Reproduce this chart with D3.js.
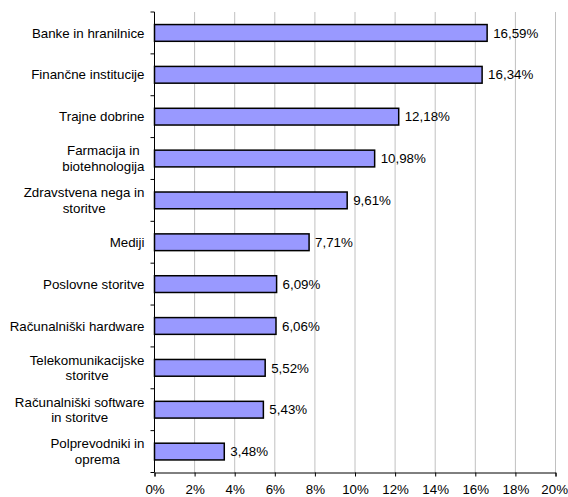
<!DOCTYPE html>
<html><head><meta charset="utf-8">
<script src="https://cdn.jsdelivr.net/npm/d3@7"></script>
<style>body{margin:0;background:#fff}svg{display:block}text{font-family:"Liberation Sans",Arial,sans-serif;font-size:13.33px;fill:#000}</style>
</head><body>
<svg id="c" width="568" height="497"></svg>
<script>
const categories = [
  ["Banke in hranilnice"],
  ["Finančne institucije"],
  ["Trajne dobrine"],
  ["Farmacija in","biotehnologija"],
  ["Zdravstvena nega in","storitve"],
  ["Mediji"],
  ["Poslovne storitve"],
  ["Računalniški hardware"],
  ["Telekomunikacijske","storitve"],
  ["Računalniški software","in storitve"],
  ["Polprevodniki in","oprema"]
];
const values = [16.59,16.34,12.18,10.98,9.61,7.71,6.09,6.06,5.52,5.43,3.48];
const xTicks = [0,2,4,6,8,10,12,14,16,18,20];

(function(){
const svg = d3.select("#c");
const mLeft = 154.5, mRight = 555.5, mTop = 12, mBottom = 472.5;
const x = d3.scaleLinear().domain([0,20]).range([mLeft,mRight]);
const ids = categories.map((d,i)=>i);
const y = d3.scaleBand().domain(ids).range([mTop,mBottom]).paddingInner(0.6).paddingOuter(0.3);
const yb = d3.scaleBand().domain(ids).range([mTop,mBottom]);

svg.append("g").selectAll("line").data(xTicks.slice(1)).join("line")
  .attr("x1",d=>x(d)).attr("x2",d=>x(d)).attr("y1",mTop).attr("y2",mBottom)
  .attr("stroke","#c0c0c0").attr("stroke-width",1);

svg.append("g").selectAll("rect").data(values).join("rect")
  .attr("x",x(0)).attr("y",(d,i)=>y(i)).attr("width",d=>x(d)-x(0)).attr("height",y.bandwidth())
  .attr("fill","#9999ff").attr("stroke","#000").attr("stroke-width",1.5);

svg.append("g").selectAll("text").data(values).join("text")
  .attr("x",d=>x(d)+6).attr("y",(d,i)=>y(i)+y.bandwidth()/2).attr("dy","0.35em")
  .text(d=>d.toFixed(2).replace(".",",")+"%");

const xa = svg.append("g").attr("transform",`translate(0,${mBottom})`)
  .call(d3.axisBottom(x).tickValues(xTicks).tickSize(4).tickPadding(8).tickFormat(d=>d+"%"));
xa.attr("font-size",null).attr("font-family",null);
xa.select(".domain").attr("stroke","#000");
xa.selectAll(".tick line").attr("stroke","#000");
xa.selectAll(".tick").filter(d=>d===20).select("text").attr("text-anchor","end").attr("x",12);

svg.append("line").attr("x1",mLeft).attr("x2",mLeft).attr("y1",mTop).attr("y2",mBottom).attr("stroke","#000");
const bounds = ids.map(i=>yb(i)).concat([mBottom]);
svg.append("g").selectAll("line").data(bounds).join("line")
  .attr("x1",mLeft-4).attr("x2",mLeft).attr("y1",d=>d).attr("y2",d=>d).attr("stroke","#000");

const labRight = 144.5, lh = 15.5;
categories.forEach((lines,i)=>{
  const cy = yb(i)+yb.bandwidth()/2;
  const g = svg.append("g");
  const ts = lines.map((l,j)=>g.append("text").attr("text-anchor","middle")
     .attr("y",cy + (j-(lines.length-1)/2)*lh).attr("dy","0.35em").text(l));
  const w = d3.max(ts,t=>t.node().getComputedTextLength());
  ts.forEach(t=>t.attr("x",labRight - w/2));
});
})();
</script>
</body></html>
